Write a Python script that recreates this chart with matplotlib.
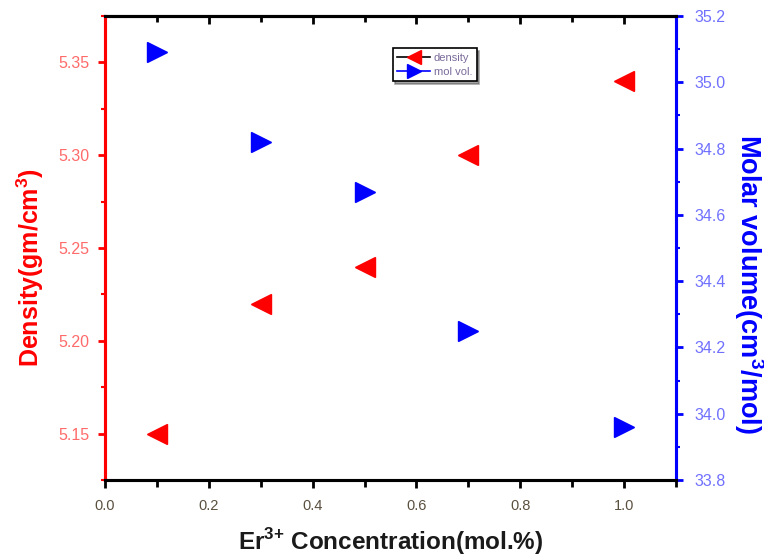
import matplotlib.pyplot as plt
from matplotlib.ticker import MultipleLocator

plt.rcParams['font.family'] = ['Liberation Sans', 'DejaVu Sans']
plt.rcParams['mathtext.fontset'] = 'custom'
plt.rcParams['mathtext.rm'] = 'Liberation Sans:bold'
plt.rcParams['mathtext.bf'] = 'Liberation Sans:bold'

conc = [0.1, 0.3, 0.5, 0.7, 1.0]
density = [5.15, 5.22, 5.24, 5.30, 5.34]
mol_vol = [35.09, 34.82, 34.67, 34.25, 33.96]

fig = plt.figure(figsize=(7.64, 5.56), dpi=100)
ax = fig.add_axes([0.1374, 0.1367, 0.7474, 0.8345])
ax2 = ax.twinx()

ax.plot(conc, density, linestyle='none', marker='<', markersize=14,
        color='red', label='density')
ax2.plot(conc, mol_vol, linestyle='none', marker='>', markersize=14,
         color='blue', label='mol vol.')

ax.set_xlim(0, 1.1)
ax.set_ylim(5.125, 5.375)
ax2.set_ylim(33.8, 35.2)

ax.xaxis.set_major_locator(MultipleLocator(0.2))
ax.xaxis.set_minor_locator(MultipleLocator(0.1))
ax.yaxis.set_major_locator(MultipleLocator(0.05))
ax.yaxis.set_minor_locator(MultipleLocator(0.025))
ax2.yaxis.set_major_locator(MultipleLocator(0.2))
ax2.yaxis.set_minor_locator(MultipleLocator(0.1))
ax.xaxis.set_major_formatter(lambda v, p: f'{v:.1f}')
ax.yaxis.set_major_formatter(lambda v, p: f'{v:.2f}')
ax2.yaxis.set_major_formatter(lambda v, p: f'{v:.1f}')

# spines: black top/bottom, coloured sides
for a in (ax, ax2):
    for s in a.spines.values():
        s.set_linewidth(2.2)
    a.spines['left'].set_color('red')
    a.spines['right'].set_color('blue')
    a.spines['top'].set_color('black')
    a.spines['bottom'].set_color('black')

ax.tick_params(axis='x', which='major', direction='out', length=6, width=2,
               labelsize=10.5, labelcolor='#5a5040', pad=8)
ax.tick_params(axis='x', which='minor', direction='out', length=5, width=2)
ax.tick_params(axis='y', which='major', direction='out', length=5, width=2,
               color='red', labelcolor='#ff6a6a', labelsize=11.5, pad=6)
ax.tick_params(axis='y', which='minor', direction='out', length=3, width=1.5, color='red')
ax2.tick_params(axis='y', which='major', direction='out', length=5, width=2,
                color='blue', labelcolor='#7070ff', labelsize=11.5, pad=8)
ax2.tick_params(axis='y', which='minor', direction='out', length=3, width=1.5, color='blue')

# top axis ticks point inward
top = ax.secondary_xaxis('top')
top.xaxis.set_major_locator(MultipleLocator(0.2))
top.xaxis.set_minor_locator(MultipleLocator(0.1))
top.tick_params(which='major', direction='in', length=6, width=2, labeltop=False)
top.tick_params(which='minor', direction='in', length=4, width=2)
top.spines['top'].set_linewidth(2.2)

ax.set_xlabel('Er$^{\\mathbf{3{+}}}$ Concentration(mol.%)', fontsize=17.5,
              fontweight='bold', color='#1a1a1a', labelpad=9)
ax.set_ylabel('Density(gm/cm$^{\\mathbf{3}}$)', fontsize=18, fontweight='bold',
              color='red')
ax2.set_ylabel('Molar volume(cm$^{\\mathbf{3}}$/mol)', fontsize=19.5, fontweight='bold',
               color='blue', rotation=270, va='center')
ax.yaxis.set_label_coords(-0.104, 0.457)
ax2.yaxis.set_label_coords(1.127, 0.422)

# legend with both series
labels = ['density', 'mol vol.']
leg_handles = [
    plt.Line2D([], [], color='black', lw=1.2, marker='<', markersize=10,
               markerfacecolor='red', markeredgecolor='red'),
    plt.Line2D([], [], color='blue', lw=1.2, marker='>', markersize=10,
               markerfacecolor='blue', markeredgecolor='blue'),
]
leg = ax2.legend(leg_handles, labels, loc='upper left',
                 bbox_to_anchor=(0.494, 0.942), fontsize=8, frameon=True,
                 fancybox=False, shadow=True, handlelength=3.0,
                 borderpad=0.4, labelspacing=0.35, handletextpad=0.3)
leg.get_frame().set_edgecolor('black')
leg.get_frame().set_linewidth(1.2)
for t in leg.get_texts():
    t.set_color('#7a6a9a')

fig.savefig('out.png', dpi=100)
